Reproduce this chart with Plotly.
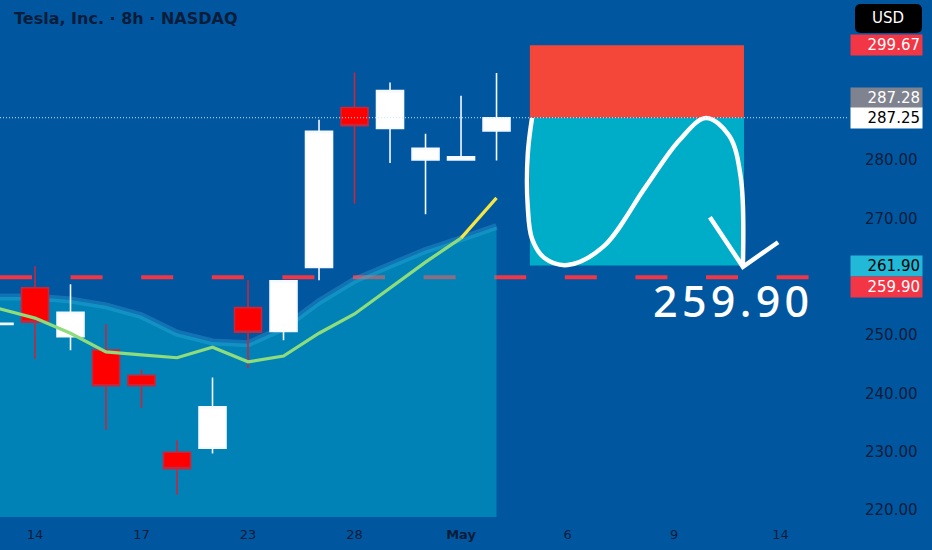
import plotly.graph_objects as go

# ---------------- data ----------------
idx = list(range(-1, 14))
open_ = [251.8, 258.1, 249.7, 247.4, 243.1, 229.9, 230.6, 254.7, 250.6, 261.6, 289.0, 285.4, 280.0, 280.0, 285.0]
high = [252.0, 261.8, 258.7, 251.9, 244.1, 231.9, 242.7, 259.4, 259.4, 286.9, 295.0, 293.3, 284.5, 291.0, 294.9]
low = [251.8, 245.9, 247.4, 233.7, 237.5, 222.6, 229.7, 244.3, 249.1, 259.4, 272.5, 279.5, 270.7, 280.0, 279.9]
close = [252.0, 252.2, 253.9, 241.3, 241.3, 227.1, 237.7, 250.5, 259.3, 284.9, 285.9, 291.9, 282.0, 280.55, 287.25]

area_top = [256.5, 256.5, 256.0, 255.0, 253.3, 250.3, 248.8, 248.5, 251.2, 255.7, 259.4, 262.0, 264.5, 266.5, 268.6]

ema_x = list(range(-1, 13))
ema_y = [254.5, 252.9, 250.3, 247.1, 246.6, 246.1, 247.9, 245.4, 246.4, 250.3, 253.6, 258.1, 262.5, 266.6]
ema2_x = [12, 13]
ema2_y = [266.6, 273.5]

tick_pos = [0, 3, 6, 9, 12, 15, 18, 21]
tick_text = ["14", "17", "23", "28", "<b>May</b>", "6", "9", "14"]

entry_price = 287.25
stop_price = 299.67
target_price = 261.90
level_price = 259.90
last_alt_price = 287.28
box_start, box_end = 13.94, 19.97

curve_x = [14.0, 13.88, 13.88, 14.0, 14.35, 15.0, 16.0, 17.2, 18.15, 18.9, 19.55, 19.88, 19.94]
curve_y = [287.2, 281.0, 272.0, 266.5, 263.2, 262.0, 265.1, 275.4, 283.4, 287.2, 284.2, 277.0, 262.0]
arrow_x = [19.01, 19.94, 20.93]
arrow_y = [270.2, 261.7, 265.9]

# ---------------- figure ----------------
BG = "#0156a0"
AX = "#0b1d3a"
XMIN, XMAX = -0.986, 22.9
YMIN, YMAX = 218.8, 307.43

fig = go.Figure()

# dashed level line (under area)
fig.add_trace(go.Scatter(x=[XMIN, 21.83], y=[level_price, level_price], mode="lines",
                         line=dict(color="#f23645", width=4, dash="32px,38.6px"),
                         hoverinfo="skip", showlegend=False))

# area
fig.add_trace(go.Scatter(x=idx, y=area_top, mode="lines", fill="tozeroy",
                         fillcolor="rgba(0,188,212,0.43)",
                         line=dict(color="rgba(60,190,235,0.28)", width=7),
                         hoverinfo="skip", showlegend=False))

# candles (overlay axes so they draw above the area)
fig.add_trace(go.Candlestick(x=idx, open=open_, high=high, low=low, close=close,
                             xaxis="x2", yaxis="y2",
                             increasing=dict(fillcolor="#ffffff", line=dict(color="#f4f8ff", width=1.6)),
                             decreasing=dict(fillcolor="#ff0000", line=dict(color="#c4283f", width=1.6)),
                             whiskerwidth=0, showlegend=False))

# EMA line
fig.add_trace(go.Scatter(x=ema_x, y=ema_y, mode="lines", line=dict(color="#8fdc7c", width=3.2),
                         xaxis="x2", yaxis="y2", hoverinfo="skip", showlegend=False))
fig.add_trace(go.Scatter(x=ema2_x, y=ema2_y, mode="lines", line=dict(color="#f5e642", width=3.2),
                         xaxis="x2", yaxis="y2", hoverinfo="skip", showlegend=False))

# position box
fig.add_shape(type="rect", xref="x", yref="y", x0=box_start, x1=box_end, y0=entry_price, y1=stop_price,
              fillcolor="#f4473a", line=dict(width=0), layer="below")
fig.add_shape(type="rect", xref="x", yref="y", x0=box_start, x1=box_end, y0=target_price, y1=entry_price,
              fillcolor="#00adc9", line=dict(width=0), layer="below")

# dotted last-price line
fig.add_shape(type="line", xref="paper", yref="y", x0=0, x1=1, y0=entry_price, y1=entry_price,
              line=dict(color="#cfe6ff", width=1, dash="1px,2px"), layer="above")

# hand drawn curve
fig.add_trace(go.Scatter(x=curve_x, y=curve_y, mode="lines",
                         line=dict(color="white", width=4.5, shape="spline", smoothing=1.0),
                         xaxis="x2", yaxis="y2", hoverinfo="skip", showlegend=False))
fig.add_trace(go.Scatter(x=arrow_x, y=arrow_y, mode="lines",
                         line=dict(color="white", width=4.5),
                         xaxis="x2", yaxis="y2", hoverinfo="skip", showlegend=False))

# big label
fig.add_annotation(x=19.6, y=256.0, xref="x", yref="y", text="2\u200a5\u200a9\u200a.\u200a9\u200a0",
                   showarrow=False, font=dict(family="Noto Sans", size=43, color="white", weight=500))

# title
fig.add_annotation(x=0, y=1, xref="paper", yref="paper", xanchor="left", yanchor="top",
                   xshift=12, yshift=-7, text="Tesla, Inc. · 8h · NASDAQ", showarrow=False,
                   font=dict(family="DejaVu Sans", size=16, color=AX, weight="bold"))

# axis price labels
labels = [
    (stop_price, "299.67", "#f23645", "white", 0),
    (last_alt_price, "287.28", "#7f838f", "white", 20),
    (entry_price, "287.25", "#ffffff", "#000000", 0),
    (target_price, "261.90", "#22b8d8", "#000000", 0),
    (level_price, "259.90", "#f23645", "white", -10),
]
for yv, txt, bg, fc, ys in labels:
    fig.add_annotation(x=1, y=yv, xref="paper", yref="y", xanchor="left", yanchor="middle",
                       xshift=2, yshift=ys, text=txt, showarrow=False, width=67, height=16,
                       align="right", bgcolor=bg, borderpad=2,
                       font=dict(family="DejaVu Sans", size=15, color=fc))

# USD box
x0p, x1p = 855 / 848, 922 / 848
y0p, y1p = (517 - 33) / 517, (517 - 4) / 517
r = 0.007
ry = 0.011
path = (f"M {x0p + r},{y0p} L {x1p - r},{y0p} Q {x1p},{y0p} {x1p},{y0p + ry} "
        f"L {x1p},{y1p - ry} Q {x1p},{y1p} {x1p - r},{y1p} L {x0p + r},{y1p} "
        f"Q {x0p},{y1p} {x0p},{y1p - ry} L {x0p},{y0p + ry} Q {x0p},{y0p} {x0p + r},{y0p} Z")
fig.add_shape(type="path", xref="paper", yref="paper", path=path, fillcolor="#000000",
              line=dict(width=0), layer="above")
fig.add_annotation(x=(x0p + x1p) / 2, y=(y0p + y1p) / 2, xref="paper", yref="paper",
                   xanchor="center", yanchor="middle",
                   text="USD", showarrow=False, font=dict(family="DejaVu Sans", size=15, color="white"))

fig.update_layout(
    width=932, height=550,
    margin=dict(l=0, r=84, t=0, b=33),
    paper_bgcolor=BG, plot_bgcolor=BG,
    boxgap=0.24, boxgroupgap=0,
    showlegend=False,
    xaxis=dict(range=[XMIN, XMAX], showgrid=False, zeroline=False, rangeslider=dict(visible=False),
               tickmode="array", tickvals=tick_pos, ticktext=tick_text, ticks="",
               ticklabelstandoff=8,
               tickfont=dict(family="DejaVu Sans", size=13, color=AX), fixedrange=True),
    yaxis=dict(range=[YMIN, YMAX], side="right", showgrid=False, zeroline=False,
               tickmode="array", tickvals=[220, 230, 240, 250, 260, 270, 280],
               ticktext=["220.00", "230.00", "240.00", "250.00", "", "270.00", "280.00"],
               ticks="", ticklabelstandoff=16,
               tickfont=dict(family="DejaVu Sans", size=15, color=AX)),
    xaxis2=dict(range=[XMIN, XMAX], overlaying="x", visible=False, showgrid=False, zeroline=False,
                rangeslider=dict(visible=False)),
    yaxis2=dict(range=[YMIN, YMAX], overlaying="y", side="right", visible=False, showgrid=False,
                zeroline=False),
)

fig.write_html("out.html", config={"displayModeBar": False},
               post_script="document.body.style.margin='0';document.body.style.padding='0';")
